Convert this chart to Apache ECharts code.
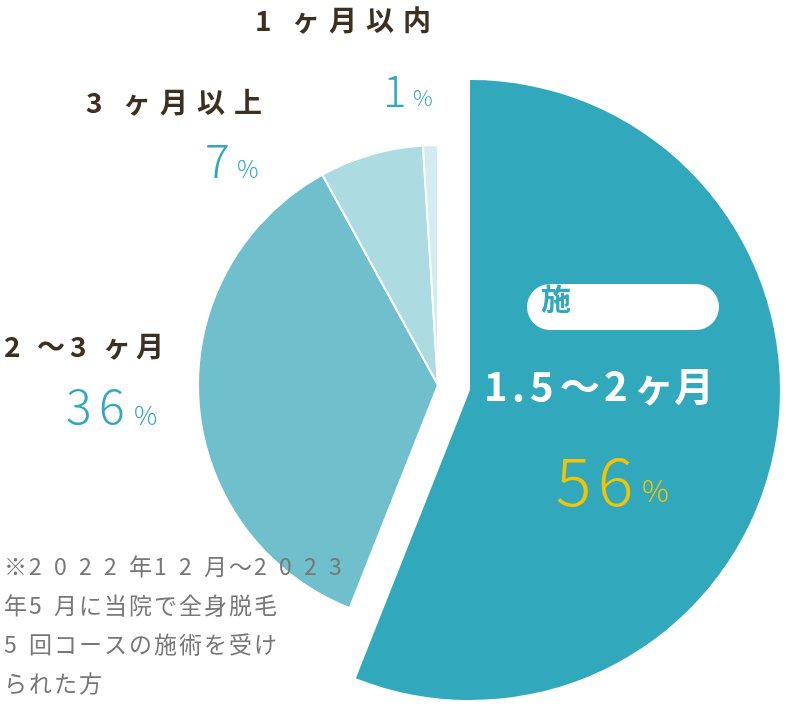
<!DOCTYPE html>
<html><head><meta charset="utf-8">
<script src="https://cdn.jsdelivr.net/npm/echarts@6/dist/echarts.min.js"></script>
<style>html,body{margin:0;background:#fff}#c{width:786px;height:711px}</style>
</head><body><div id="c"></div>
<script>
var categories = ['1.5〜2ヶ月', '2〜3ヶ月', '3ヶ月以上', '1ヶ月以内'];
var values = [56, 36, 7, 1];
var colors = ['#32a8bd', '#6fbfcc', '#acdbe1', '#d3ecef'];
var note = ['※2022年12月〜2023', '年5月に当院で全身脱毛', '5回コースの施術を受け', 'られた方'];

var chart = echarts.init(document.getElementById('c'));
var font = '"Noto Sans CJK JP", sans-serif';

function sliceData(showMain) {
	var d = [];
	for (var i = 0; i < values.length; i++) {
		var show = (i == 0) == showMain;
		d.push({
			name: categories[i], value: values[i],
			itemStyle: { color: show ? colors[i] : 'rgba(0,0,0,0)', borderWidth: show && !showMain ? 2 : 0, borderColor: '#fff' }
		});
	}
	return d;
}

// 一文字ずつ並べて字間を広げる
var graphics = [];
function spaced(x, y, t, size, step, color, weight) {
	var chars = Array.from(String(t));
	for (var i = 0; i < chars.length; i++) {
		graphics.push({ type: 'text', z: 100, x: x + i * step, y: y,
			style: { text: chars[i], fontSize: size, fontWeight: weight || 'normal', fontFamily: font, fill: color } });
	}
	return x + chars.length * step;
}
function lbl(x, y, t, size, step, color) { return spaced(x, y, t, size, step, color || '#3d3020', 'bold'); }
function pct(x, y, v, big, step, small, color) {
	var c = color || '#32a8bd';
	var e = spaced(x, y, v, big, step, c, 300);
	spaced(e + 2, y + big * 0.42, '%', small, small, c, 300);
}

lbl(255, 6, '1ヶ月以内', 28, 37);
pct(383, 68, values[3], 44, 28, 22);
lbl(86, 88, '3ヶ月以上', 28, 37);
pct(205, 138, values[2], 46, 30, 24);
lbl(4, 332, '2〜3ヶ月', 28, 33);
pct(66, 382, values[1], 48, 33, 26);
graphics.push({ type: 'rect', z: 99, shape: { x: 527, y: 284, width: 192, height: 46, r: 23 }, style: { fill: '#fff' } });
spaced(541, 284, '施術間隔', 30, 42, '#32a8bd', 'bold');
lbl(484, 368, '1.5〜2ヶ月', 40, 0, '#fff');
graphics.pop(); graphics.length -= 9;
var s = ['1', '.', '5', '〜', '2', 'ヶ', '月'], w = [28, 18, 30, 44, 30, 40, 40], xx = 484;
for (var i = 0; i < s.length; i++) { spaced(xx, 366, s[i], 40, 0, '#fff', 'bold'); xx += w[i]; }
pct(556, 448, values[0], 66, 42, 30, '#f5c400');
for (var i = 0; i < note.length; i++) {
	spaced(4, 555 + i * 39, note[i], 23, 25, '#777', 'normal');
}

option = {
	animation: false,
	series: [
		{ type: 'pie', radius: 310, center: [470, 390], startAngle: 90, clockwise: true, label: { show: false }, silent: true, data: sliceData(true) },
		{ type: 'pie', radius: 240, center: [438, 385], startAngle: 90, clockwise: true, label: { show: false }, silent: true, data: sliceData(false) }
	],
	graphic: graphics
};
chart.setOption(option);
</script>
</body></html>
